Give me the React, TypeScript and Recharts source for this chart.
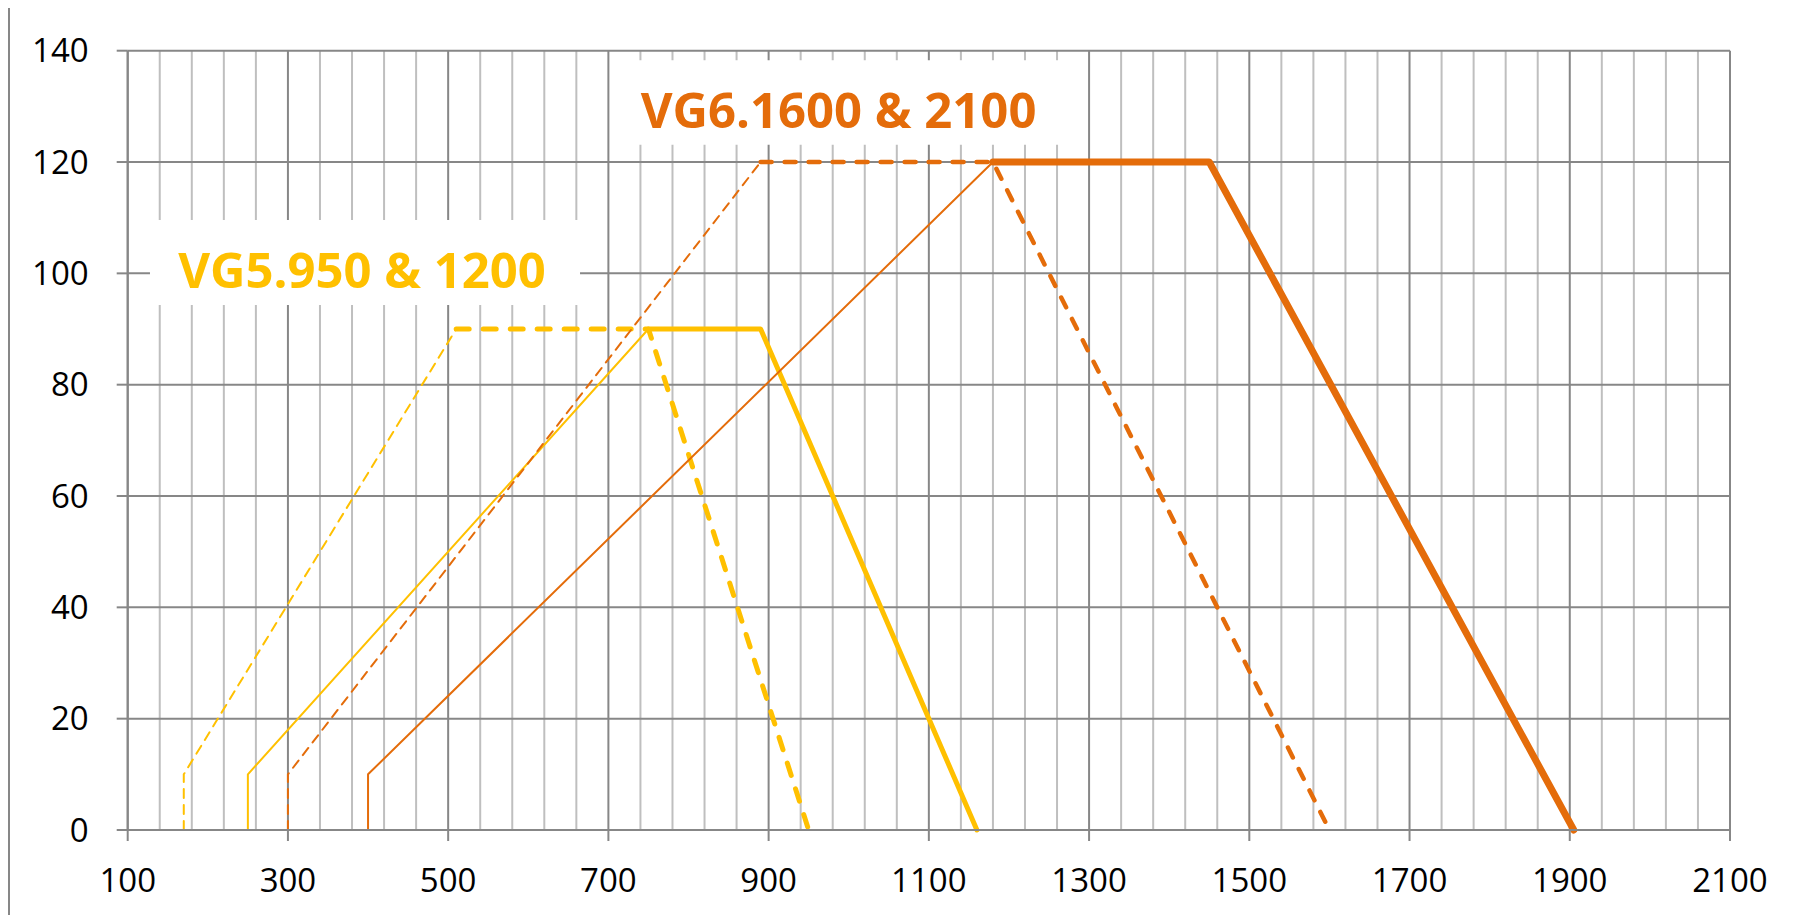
import { LineChart, Line, XAxis, YAxis, CartesianGrid, ReferenceArea } from 'recharts';

const yellow = '#FFC000';
const orange = '#E46C0A';
const gridDark = '#878787';
const gridLight = '#BFBFBF';

const xTicks = [100, 300, 500, 700, 900, 1100, 1300, 1500, 1700, 1900, 2100];
const yTicks = [0, 20, 40, 60, 80, 100, 120, 140];
// four light lines between every pair of labelled x ticks
const xMinor = xTicks.slice(0, -1).flatMap((t) => [t + 40, t + 80, t + 120, t + 160]);

// VG5.950 & 1200
const vg5RiseDashed = [{ x: 170, y: 0 }, { x: 170, y: 10 }, { x: 510, y: 90 }];
const vg5TopDashed = [{ x: 510, y: 90 }, { x: 750, y: 90 }, { x: 950, y: 0 }];
const vg5RiseSolid = [{ x: 250, y: 0 }, { x: 250, y: 10 }, { x: 750, y: 90 }];
const vg5TopSolid = [{ x: 750, y: 90 }, { x: 890, y: 90 }, { x: 1160, y: 0 }];

// VG6.1600 & 2100
const vg6RiseDashed = [{ x: 300, y: 0 }, { x: 300, y: 10 }, { x: 890, y: 120 }];
const vg6TopDashed = [{ x: 890, y: 120 }, { x: 1180, y: 120 }, { x: 1600, y: 0 }];
const vg6RiseSolid = [{ x: 400, y: 0 }, { x: 400, y: 10 }, { x: 1180, y: 120 }];
const vg6TopSolid = [{ x: 1180, y: 120 }, { x: 1450, y: 120 }, { x: 1905, y: 0 }];

const tickFont = { fill: '#000', fontSize: 33, fontFamily: 'Open Sans, sans-serif' };

const boxLabel = (text: string, color: string, dx: number) => (props: any) => {
  const { x, y, width } = props.viewBox;
  return (
    <text
      x={x + width / 2 + dx}
      y={y + 68}
      textAnchor="middle"
      fill={color}
      fontFamily="Open Sans, sans-serif"
      fontWeight={700}
      fontSize={49}
    >
      {text}
    </text>
  );
};

const seg = (data: any[], color: string, width: number, dash?: string) => (
  <Line
    data={data}
    dataKey="y"
    type="linear"
    stroke={color}
    strokeWidth={width}
    strokeDasharray={dash}
    strokeLinecap="round"
    strokeLinejoin="round"
    dot={false}
    activeDot={false}
    isAnimationActive={false}
  />
);

export default function App() {
  // negative margins cancel the body margin so the frame can sit at the window edge
  return (
    <div style={{ position: 'relative', width: 1804, height: 915, marginTop: -8, marginLeft: -8 }}>
      <div style={{ position: 'absolute', left: 0, top: 0 }}>
        <LineChart
          width={1804}
          height={915}
          margin={{ top: 50.7, right: 74, left: 47.7, bottom: 25 }}
        >
          <CartesianGrid horizontal={false} verticalValues={xMinor} stroke={gridLight} strokeWidth={2} />
          <CartesianGrid verticalValues={xTicks} horizontalValues={yTicks} stroke={gridDark} strokeWidth={2} />
          <XAxis
            dataKey="x"
            type="number"
            domain={[100, 2100]}
            ticks={xTicks}
            interval={0}
            allowDataOverflow
            tickSize={11}
            tickMargin={28}
            tick={tickFont}
            stroke={gridDark}
            strokeWidth={2}
            height={60}
          />
          <YAxis
            type="number"
            domain={[0, 140]}
            ticks={yTicks}
            interval={0}
            tickSize={11}
            tickMargin={28}
            tick={tickFont}
            stroke={gridDark}
            strokeWidth={2}
            width={80}
          />
          <ReferenceArea
            x1={127.8}
            x2={664.6}
            y1={94.3}
            y2={109.6}
            fill="#fff"
            fillOpacity={1}
            stroke="none"
            label={boxLabel('VG5.950 & 1200', yellow, -3)}
          />
          <ReferenceArea
            x1={704.6}
            x2={1297.5}
            y1={123.1}
            y2={138.3}
            fill="#fff"
            fillOpacity={1}
            stroke="none"
            label={boxLabel('VG6.1600 & 2100', orange, -11)}
          />
          {seg(vg5RiseDashed, yellow, 2, '9 7')}
          {seg(vg5RiseSolid, yellow, 2)}
          {seg(vg5TopDashed, yellow, 5, '13 14')}
          {seg(vg5TopSolid, yellow, 5)}
          {seg(vg6RiseDashed, orange, 2, '9 7')}
          {seg(vg6RiseSolid, orange, 2)}
          {seg(vg6TopDashed, orange, 4.5, '11 13')}
          {seg(vg6TopSolid, orange, 7)}
        </LineChart>
      </div>
      {/* outer chart-area frame */}
      <svg
        width={1804}
        height={915}
        style={{ position: 'absolute', left: 0, top: 0, pointerEvents: 'none', zIndex: 2 }}
      >
        <line x1={8} y1={7} x2={1804} y2={7} stroke={gridDark} strokeWidth={2} />
        <line x1={9} y1={6} x2={9} y2={915} stroke={gridDark} strokeWidth={2} />
      </svg>
    </div>
  );
}
